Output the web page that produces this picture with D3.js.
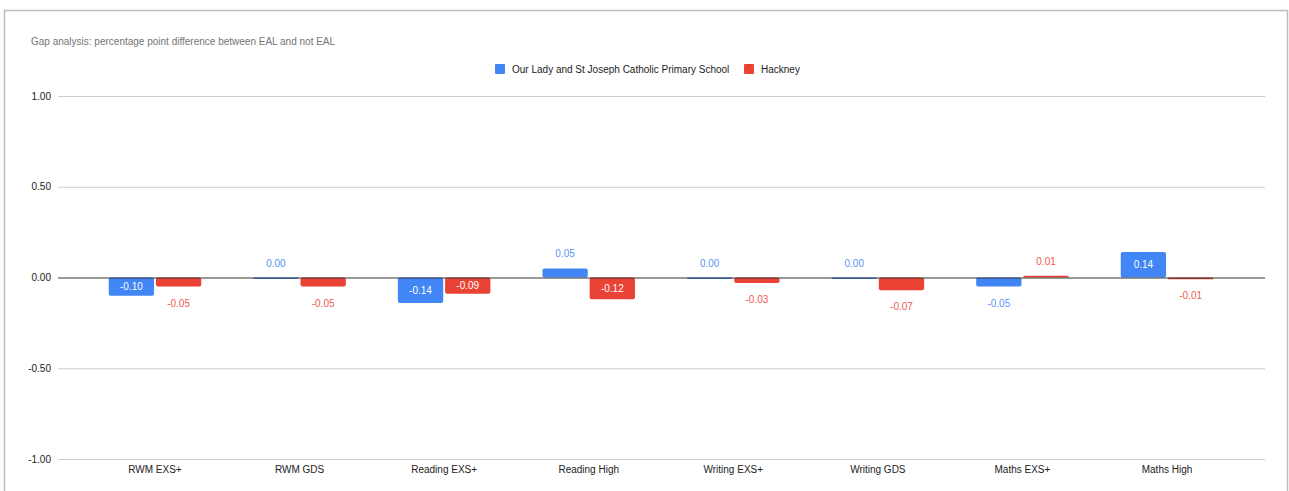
<!DOCTYPE html>
<html>
<head>
<meta charset="utf-8">
<script src="https://cdn.jsdelivr.net/npm/d3@7"></script>
<style>
  html, body { margin: 0; padding: 0; background: #fff; }
  svg { display: block; font-family: "Liberation Sans", Arial, sans-serif; }
</style>
</head>
<body>
<svg id="chart" width="1289" height="491"></svg>
<script>
const categories = ["RWM EXS+", "RWM GDS", "Reading EXS+", "Reading High", "Writing EXS+", "Writing GDS", "Maths EXS+", "Maths High"];
const seriesNames = ["Our Lady and St Joseph Catholic Primary School", "Hackney"];
const schoolValues = [-0.10, 0.00, -0.14, 0.05, 0.00, 0.00, -0.05, 0.14];
const hackneyValues = [-0.05, -0.05, -0.09, -0.12, -0.03, -0.07, 0.01, -0.01];
const yTicks = [-1.00, -0.50, 0.00, 0.50, 1.00];
const colors = ["#4285F4", "#EA4335"];
const labelColors = ["#5a95f5", "#ee5b4f"];
const title = "Gap analysis: percentage point difference between EAL and not EAL";

const svg = d3.select("#chart");

// border
svg.append("rect")
  .attr("x", 4.5).attr("y", 10.5)
  .attr("width", 1283).attr("height", 500)
  .attr("fill", "none").attr("stroke", "#bdbdbd").attr("stroke-width", 1.5);

svg.append("text")
  .attr("x", 31).attr("y", 45)
  .attr("font-size", 10).attr("fill", "#757575")
  .text(title);

const y = d3.scaleLinear().domain([-1, 1]).range([459, 96]);
const x0 = d3.scaleBand().domain(categories).range([82.7, 1239.3]).paddingInner(0.36).paddingOuter(0.18);
const x1 = d3.scaleBand().domain(seriesNames).range([0, x0.bandwidth()]).paddingInner(0.04);

const gridLeft = 58, gridRight = 1265;

// gridlines
svg.append("g").selectAll("line").data(yTicks.filter(d => d !== 0)).join("line")
  .attr("x1", gridLeft).attr("x2", gridRight)
  .attr("y1", d => y(d) + 0.5).attr("y2", d => y(d) + 0.5)
  .attr("stroke", "#cccccc").attr("stroke-width", 1);

// y tick labels
svg.append("g").selectAll("text").data(yTicks).join("text")
  .attr("x", 51).attr("y", d => y(d))
  .attr("dy", "0.35em")
  .attr("text-anchor", "end")
  .attr("font-size", 10).attr("fill", "#222")
  .text(d => d3.format(".2f")(d).replace("−", "-"));

// data rows
const rows = categories.map((c, i) => ({cat: c, vals: [schoolValues[i], hackneyValues[i]]}));

const groups = svg.append("g").selectAll("g").data(rows).join("g")
  .attr("transform", d => `translate(${x0(d.cat)},0)`);

const bars = groups.selectAll("g.bar").data(d => d.vals.map((v, s) => ({v, s}))).join("g").attr("class", "bar");

bars.append("path")
  .attr("fill", d => colors[d.s])
  .attr("d", d => {
    const x = x1(seriesNames[d.s]);
    const w = x1.bandwidth();
    let top = Math.min(y(d.v), y(0));
    let bot = Math.max(y(d.v), y(0));
    if (bot - top < 1.5) { top = y(0); bot = y(0) + 1.5; }
    const r = Math.min(2, (bot - top) / 2);
    return `M${x + r},${top} H${x + w - r} Q${x + w},${top} ${x + w},${top + r} V${bot - r} Q${x + w},${bot} ${x + w - r},${bot} H${x + r} Q${x},${bot} ${x},${bot - r} V${top + r} Q${x},${top} ${x + r},${top} Z`;
  });

bars.append("text")
  .attr("x", d => x1(seriesNames[d.s]) + x1.bandwidth() / 2)
  .attr("y", d => {
    const h = Math.abs(y(d.v) - y(0));
    if (h >= 15) return (y(d.v) + y(0)) / 2;
    return d.v >= 0 ? y(d.v) - 14.5 : y(d.v) + 16.5;
  })
  .attr("dy", "0.35em")
  .attr("text-anchor", "middle")
  .attr("font-size", 10)
  .attr("fill", d => Math.abs(y(d.v) - y(0)) >= 15 ? "#ffffff" : labelColors[d.s])
  .text(d => d3.format(".2f")(d.v).replace("−", "-"));

// zero line
svg.append("line")
  .attr("x1", gridLeft).attr("x2", gridRight)
  .attr("y1", y(0) + 0.5).attr("y2", y(0) + 0.5)
  .attr("stroke", "#333333").attr("stroke-width", 1);

// x labels
svg.append("g").selectAll("text").data(categories).join("text")
  .attr("x", d => x0(d) + x0.bandwidth() / 2)
  .attr("y", 473)
  .attr("text-anchor", "middle")
  .attr("font-size", 10).attr("fill", "#222")
  .text(d => d);

// legend
const legendItems = [{name: seriesNames[0], x: 495}, {name: seriesNames[1], x: 744}];
const lg = svg.append("g").selectAll("g").data(legendItems).join("g");
lg.append("rect")
  .attr("x", d => d.x).attr("y", 64)
  .attr("width", 10).attr("height", 10)
  .attr("rx", 1)
  .attr("fill", (d, i) => colors[i]);
lg.append("text")
  .attr("x", d => d.x + 17).attr("y", 69)
  .attr("dy", "0.35em")
  .attr("font-size", 10).attr("fill", "#222")
  .text(d => d.name);
</script>
</body>
</html>
